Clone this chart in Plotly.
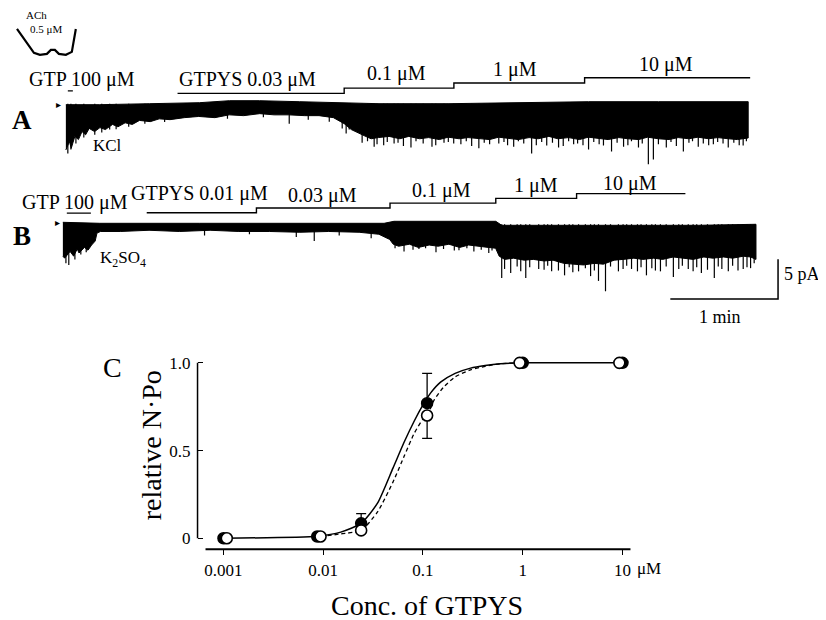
import plotly.graph_objects as go

# The page body has an 8 px margin: draw the figure 8 px smaller and map
# reference-picture pixels through px()/py().
OFF = 8
W_FIG, H_FIG = 818, 612
def px(x):
    return (x - OFF) / W_FIG
def py(y):
    return 1 - (y - OFF) / H_FIG

SERIF = "Liberation Serif, Times New Roman, serif"

# ---------------- Panel A : KCl recording (time s, current pA) ----------------
a_top_t = [0, 18.9, 46.7, 74.4, 91.1, 107.8, 130, 152.2, 174.4, 213.3, 252.2, 291.1, 330, 380]
a_top_i = [-0.125, -0.125, 0, 0.125, 0.375, 0.375, 0.25, 0.125, 0, 0, 0.125, 0.25, 0.25, 0.25]
a_bot_t = [0, 2, 3, 5, 7, 9, 11, 13, 16, 19, 22, 26, 29, 33, 37, 41, 47, 52, 58, 66,
           74, 83, 91, 99, 108, 116, 124, 133, 141, 149, 155, 159, 162, 166, 170, 174, 180, 186, 191, 197,
           202, 208, 213, 219, 224, 230, 236, 241, 247, 252, 258, 263, 269, 274, 280, 286, 291, 297, 302, 308,
           313, 319, 324, 330, 336, 341, 347, 352, 358, 363, 369, 374, 380]
a_bot_i = [-5.8, -4.75, -5.6, -4.1, -4.5, -3.5, -3.9, -3.1, -3.5, -3.0,
           -3.25, -2.6, -2.9, -2.4, -2.6, -2.1, -2.25, -1.9, -2.0, -1.75,
           -1.6, -1.75, -1.4, -1.5, -1.25, -1.4, -1.4, -1.5, -1.5, -1.75,
           -2.5, -3.25, -3.6, -4.0, -4.4, -4.25, -4.1, -4.4, -4.1, -4.4,
           -4.25, -4.5, -4.2, -4.4, -4.25, -4.4, -4.5, -4.2, -4.4, -4.5,
           -4.25, -4.4, -4.1, -4.4, -4.25, -4.5, -4.2, -4.4, -4.5, -4.25,
           -4.4, -4.5, -4.2, -4.4, -4.5, -4.25, -4.4, -4.2, -4.4, -4.25,
           -4.4, -4.5, -4.3]
a_spike_t = ([1.1, 2.8, 5.6, 10, 16.1, 20, 24.4, 28, 35, 44, 55, 90, 110, 124.4, 135, 146.7, 153.9, 156.1, 157.8,
              171.7, 173.3, 182.8, 192.2, 203.9, 210.6, 220, 230, 241.1, 249.4, 259.4, 267.8,
              274.4, 282.8, 291.1, 299.4, 303.9, 310.6, 318.9, 324.4, 327.2, 334.4, 343.9,
              352.2, 360.6, 368.9, 377.2]
             + [165, 168, 177, 179, 185, 188, 195, 199, 206, 213, 216, 223, 226, 233, 236, 244, 246, 252, 255, 262,
                265, 271, 277, 280, 285, 288, 294, 297, 307, 313, 315, 321, 330, 337, 340, 347, 349, 355, 358, 363,
                366, 372, 375, 379])
a_spike_i = ([-6.25, -5.75, -5.0, -4.25, -3.9, -3.6, -3.25, -3.2, -2.9, -2.5, -2.3, -1.9, -1.7, -2.5, -2.0, -2.25,
              -3.1, -3.75, -3.25,
              -5.4, -5.1, -5.0, -5.5, -5.4, -4.9, -5.1, -5.6, -5.0, -5.4, -6.25, -5.25,
              -5.5, -5.1, -5.75, -5.25, -6.0, -5.4, -5.5, -7.6, -7.0, -5.5, -6.0,
              -5.4, -5.1, -5.5, -5.25]
             + [-4.9, -4.7, -5.2, -4.8, -4.9, -5.3, -4.7, -5.0, -5.2, -4.8, -5.0, -4.7, -5.3, -4.9, -5.1, -4.8,
                -5.2, -4.7, -5.0, -5.2, -4.8, -4.9, -5.3, -4.7, -5.0, -5.2, -4.8, -5.1, -4.9, -5.2, -4.7, -5.0,
                -5.1, -4.8, -5.3, -4.9, -4.7, -5.0, -5.2, -4.8, -5.0, -4.9, -5.2, -4.7])
a_gtp_t = [1.1, 3.9]
a_switch_t = [62.2, 155, 216.1, 288.9, 381.1]

# ---------------- Panel B : K2SO4 recording ----------------
b_top_t = [0, 20.6, 76.1, 131.7, 178.9, 184.4, 215, 241.1, 244.4, 298.3, 353.9, 386]
b_top_i = [0.25, 0.125, 0.125, 0.125, 0.125, 0.375, 0.375, 0.375, -0.125, -0.125, -0.125, 0]
b_bot_t = [0, 1, 4, 6, 8, 9, 12, 14, 16, 18, 19, 21, 32, 48, 65, 82, 98, 115, 132, 148,
           165, 176, 182, 184, 187, 193, 198, 204, 209, 215, 221, 226, 232, 237, 241, 243, 246, 251, 257, 262,
           268, 273, 279, 284, 290, 296, 301, 307, 312, 318, 323, 329, 334, 340, 346, 351, 357, 362, 368, 373,
           379, 383, 386]
b_bot_i = [-4.0, -4.25, -3.4, -4.0, -3.1, -3.6, -2.9, -3.25, -2.6, -2.1,
           -1.1, -0.9, -0.9, -0.75, -0.9, -0.75, -0.9, -0.9, -1.0, -0.9,
           -1.0, -1.25, -1.9, -2.5, -2.75, -2.5, -2.9, -2.6, -2.75, -2.5,
           -2.9, -2.6, -2.75, -2.9, -3.0, -4.0, -4.4, -4.25, -4.5, -4.4,
           -4.6, -4.5, -4.9, -5.0, -5.1, -4.9, -5.0, -4.5, -4.4, -4.25,
           -4.4, -4.25, -4.4, -4.1, -4.25, -4.4, -4.1, -4.25, -4.1, -4.25,
           -4.0, -4.1, -4.4]
b_spike_t = ([1.7, 3.3, 6.7, 10, 13, 78.9, 103.9, 130, 140, 153.9, 171.7, 185, 190, 195, 198.3, 202, 207.8, 212,
              218, 220.6, 225, 228.9, 233, 237.2, 239,
              244.4, 249.4, 257.8, 265, 272.2, 279.4, 287.2, 293.9, 298.3, 302.2, 309.4,
              316.7, 325, 332.8, 340, 348.3, 355.6, 362.8, 370.6, 378.9, 385]
             + [246, 253, 255, 260, 268, 270, 276, 282, 284, 291, 296, 305, 312, 314, 320, 322, 328, 330, 336, 343,
                345, 351, 353, 359, 365, 367, 373, 376, 381, 383])
b_spike_i = ([-4.9, -5.1, -4.4, -3.8, -3.5, -1.4, -1.25, -1.6, -2.1, -1.4, -1.75, -3.0, -3.4, -3.2, -3.1, -3.0,
              -3.5, -3.1, -3.3, -3.25, -3.0, -3.4, -3.2, -3.6, -3.3,
              -6.75, -6.1, -6.75, -5.6, -5.9, -6.4, -5.9, -6.5, -7.1, -8.4, -5.9,
              -5.6, -6.4, -5.9, -6.6, -5.6, -6.1, -6.75, -5.9, -5.6, -4.9]
             + [-5.6, -5.3, -5.9, -5.4, -5.7, -5.2, -5.8, -5.4, -6.0, -5.5, -5.8, -5.3, -5.6, -5.2, -5.9, -5.4,
                -5.5, -5.8, -5.3, -5.6, -5.2, -5.9, -5.4, -5.7, -5.3, -5.6, -5.2, -5.8, -5.4, -5.5])
b_gtp_t = [2.2, 15.6]
b_switch_t = [46.7, 107.8, 182.2, 241.1, 286.1, 346.7]

SCALE_T = 60   # 1 min
SCALE_I = 5    # 5 pA

# ---------------- Panel C : dose response ----------------
conc_kcl = [0.001, 0.0087, 0.024, 0.11, 1.0, 10.0]
npo_kcl = [0.0, 0.01, 0.085, 0.77, 1.0, 1.0]
err_kcl_plus = [0, 0, 0.055, 0.17, 0, 0]
conc_k2so4 = [0.00108, 0.0094, 0.024, 0.11, 0.93, 9.3]
npo_k2so4 = [0.0, 0.01, 0.045, 0.70, 1.0, 1.0]
err_k2so4_minus = [0, 0, 0, 0.13, 0, 0]

fit_kcl_x = [0.001, 0.0087, 0.015, 0.024, 0.035, 0.05, 0.065, 0.082, 0.1, 0.12, 0.15, 0.21, 0.3, 0.42, 0.6, 1.0, 10.0]
fit_kcl_y = [0.0, 0.012, 0.035, 0.085, 0.2, 0.4, 0.55, 0.67, 0.76, 0.83, 0.89, 0.94, 0.97, 0.985, 0.995, 1.0, 1.0]
fit_k2so4_x = [0.0094, 0.015, 0.024, 0.035, 0.05, 0.065, 0.082, 0.1, 0.11, 0.13, 0.16, 0.21, 0.3, 0.42, 0.6, 0.93]
fit_k2so4_y = [0.01, 0.025, 0.045, 0.15, 0.32, 0.47, 0.6, 0.68, 0.70, 0.79, 0.86, 0.92, 0.96, 0.98, 0.995, 1.0]

xticks_c = [0.001, 0.01, 0.1, 1, 10]
xticklabels_c = ["0.001", "0.01", "0.1", "1", "10"]
yticks_c = [0, 0.5, 1.0]
yticklabels_c = ["0", "0.5", "1.0"]

fig = go.Figure()

def band(top_t, top_i, bot_t, bot_i, xa, ya):
    fig.add_trace(go.Scatter(x=top_t + bot_t[::-1], y=top_i + bot_i[::-1], fill="toself",
                             fillcolor="black", mode="lines", line=dict(color="black", width=1),
                             xaxis=xa, yaxis=ya, hoverinfo="skip"))

def spikes(st, si, xa, ya):
    xs, ys = [], []
    for t, i in zip(st, si):
        xs += [t, t, None]
        ys += [0, i, None]
    fig.add_trace(go.Scatter(x=xs, y=ys, mode="lines", line=dict(color="black", width=1.2),
                             xaxis=xa, yaxis=ya, hoverinfo="skip"))

def steps(sw, base, rise, xa, ya):
    lv = [base + k * rise for k in range(len(sw) - 1)]
    fig.add_trace(go.Scatter(x=sw, y=lv + [lv[-1]], mode="lines", line=dict(color="black", width=1.4, shape="hv"),
                             xaxis=xa, yaxis=ya, hoverinfo="skip"))

band(a_top_t, a_top_i, a_bot_t, a_bot_i, "x2", "y2")
spikes(a_spike_t, a_spike_i, "x2", "y2")
steps(a_switch_t, 1.3, 0.65, "x2", "y2")
fig.add_trace(go.Scatter(x=a_gtp_t, y=[1.6, 1.6], mode="lines", line=dict(color="black", width=1.3),
                         xaxis="x2", yaxis="y2", hoverinfo="skip"))

band(b_top_t, b_top_i, b_bot_t, b_bot_i, "x3", "y3")
spikes(b_spike_t, b_spike_i, "x3", "y3")
steps(b_switch_t, 1.45, 0.6, "x3", "y3")
fig.add_trace(go.Scatter(x=b_gtp_t, y=[1.4, 1.4], mode="lines", line=dict(color="black", width=1.3),
                         xaxis="x3", yaxis="y3", hoverinfo="skip"))

# scale bar (in B coordinates)
sc_t = 398.3
sc_i = -9.375
fig.add_trace(go.Scatter(x=[sc_t - SCALE_T, sc_t, sc_t], y=[sc_i, sc_i, sc_i + SCALE_I], mode="lines",
                         line=dict(color="black", width=1.5), xaxis="x3", yaxis="y3", hoverinfo="skip"))

# Panel C
fig.add_trace(go.Scatter(x=fit_kcl_x, y=fit_kcl_y, mode="lines",
                         line=dict(color="black", width=1.5, shape="spline", smoothing=0.6)))
fig.add_trace(go.Scatter(x=fit_k2so4_x, y=fit_k2so4_y, mode="lines",
                         line=dict(color="black", width=1.3, dash="4px,3px", shape="spline", smoothing=0.6)))
fig.add_trace(go.Scatter(x=conc_kcl, y=npo_kcl, mode="markers",
                         marker=dict(symbol="circle", size=11, color="black", line=dict(color="black", width=1.5)),
                         error_y=dict(type="data", symmetric=False, array=err_kcl_plus,
                                      arrayminus=[0] * len(err_kcl_plus), color="black", thickness=1.3, width=5)))
fig.add_trace(go.Scatter(x=conc_k2so4, y=npo_k2so4, mode="markers",
                         marker=dict(symbol="circle", size=11, color="white", line=dict(color="black", width=1.6)),
                         error_y=dict(type="data", symmetric=False, array=[0] * len(err_k2so4_minus),
                                      arrayminus=err_k2so4_minus, color="black", thickness=1.3, width=5)))

# pixel <-> data mappings of the reference picture
C_X0, C_X1, C_Y0, C_Y1 = 198, 631, 355, 549      # plot box of C (pixels)
def c_logx(p):
    return -3 + (p - 224) / 100.0
def c_y(p):
    return (538 - p) / 176.0
def a_t(p):
    return (p - 66) / 1.8
def a_i(p):
    return (102 - p) / 8.0
def b_t(p):
    return (p - 63) / 1.8
def b_i(p):
    return (223 - p) / 8.0

LEFT, RIGHT = OFF, OFF + W_FIG

fig.update_layout(
    width=W_FIG, height=H_FIG, margin=dict(l=0, r=0, t=0, b=0),
    paper_bgcolor="white", plot_bgcolor="rgba(0,0,0,0)", showlegend=False,
    font=dict(family=SERIF, color="black"),
    xaxis=dict(type="log", domain=[px(C_X0), px(C_X1)], range=[c_logx(C_X0), c_logx(C_X1)],
               tickvals=xticks_c, ticktext=xticklabels_c, ticks="outside", ticklen=5, tickwidth=1.3,
               tickcolor="black", showline=False, showgrid=False, zeroline=False,
               tickfont=dict(family=SERIF, size=17), anchor="y"),
    yaxis=dict(domain=[py(C_Y1), py(C_Y0)], range=[c_y(C_Y1), c_y(C_Y0)],
               tickvals=yticks_c, ticktext=yticklabels_c, ticks="inside", ticklen=5, tickwidth=1.3,
               tickcolor="black", showline=False, showgrid=False, zeroline=False,
               tickfont=dict(family=SERIF, size=17), ticklabelstandoff=6, anchor="x"),
    xaxis2=dict(domain=[0, 1], range=[a_t(LEFT), a_t(RIGHT)], visible=False, anchor="y2"),
    yaxis2=dict(domain=[py(175), py(40)], range=[a_i(175), a_i(40)], visible=False, anchor="x2"),
    xaxis3=dict(domain=[0, 1], range=[b_t(LEFT), b_t(RIGHT)], visible=False, anchor="y3"),
    yaxis3=dict(domain=[py(320), py(175)], range=[b_i(320), b_i(175)], visible=False, anchor="x3"),
)

shapes = []
shapes.append(dict(type="line", xref="x domain", yref="y", x0=0, x1=0, y0=0, y1=1,
                   line=dict(color="black", width=1.5)))
shapes.append(dict(type="line", xref="paper", yref="y domain", x0=px(206), x1=px(632), y0=0, y1=0,
                   line=dict(color="black", width=1.8)))
pts = [(17, 27), (34, 51), (40, 53), (47, 52), (51, 48), (55, 48), (59, 52), (66, 53), (72, 50), (76, 27)]
path = "M " + " L ".join(f"{px(x):.5f},{py(y):.5f}" for x, y in pts)
shapes.append(dict(type="path", xref="paper", yref="paper", path=path, line=dict(color="black", width=2.2)))
fig.update_layout(shapes=shapes)

ann = []
def txt(x, y, s, size=17, xanchor="center", **kw):
    ann.append(dict(x=px(x), y=py(y), xref="paper", yref="paper", text=s, showarrow=False,
                    xanchor=xanchor, yanchor="middle", font=dict(family=SERIF, size=size, color="black"), **kw))

txt(37, 13, "ACh", 11)
txt(46, 27, "0.5 μM", 11)
txt(22, 118, "<b>A</b>", 27)
txt(82, 78, "GTP 100 μM", 20)
txt(248, 78, "GTPYS 0.03 μM", 20)
txt(397, 72, "0.1 μM", 20)
txt(516, 68, "1 μM", 20)
txt(668, 63, "10 μM", 20)
txt(108, 144, "KCl", 17)
txt(59, 103, "▸", 10)
txt(22, 235, "<b>B</b>", 27)
txt(75, 201, "GTP 100 μM", 20)
txt(200, 192, "GTPYS 0.01 μM", 20)
txt(323, 194, "0.03 μM", 20)
txt(443, 189, "0.1 μM", 20)
txt(537, 184, "1 μM", 20)
txt(632, 182, "10 μM", 20)
txt(123, 258, "K<sub>2</sub>SO<sub>4</sub>", 17)
txt(58, 221, "▸", 10)
txt(784, 273, "5 pA", 18, xanchor="left")
txt(722, 316, "1 min", 18)
txt(113, 367, "C", 28)
txt(637, 568, "μM", 17, xanchor="left")
txt(428, 605, "Conc. of GTPYS", 28)
txt(152, 445, "relative N·Po", 28, textangle=-90)
fig.update_layout(annotations=ann)

fig.write_html("out.html", config={"displayModeBar": False})
